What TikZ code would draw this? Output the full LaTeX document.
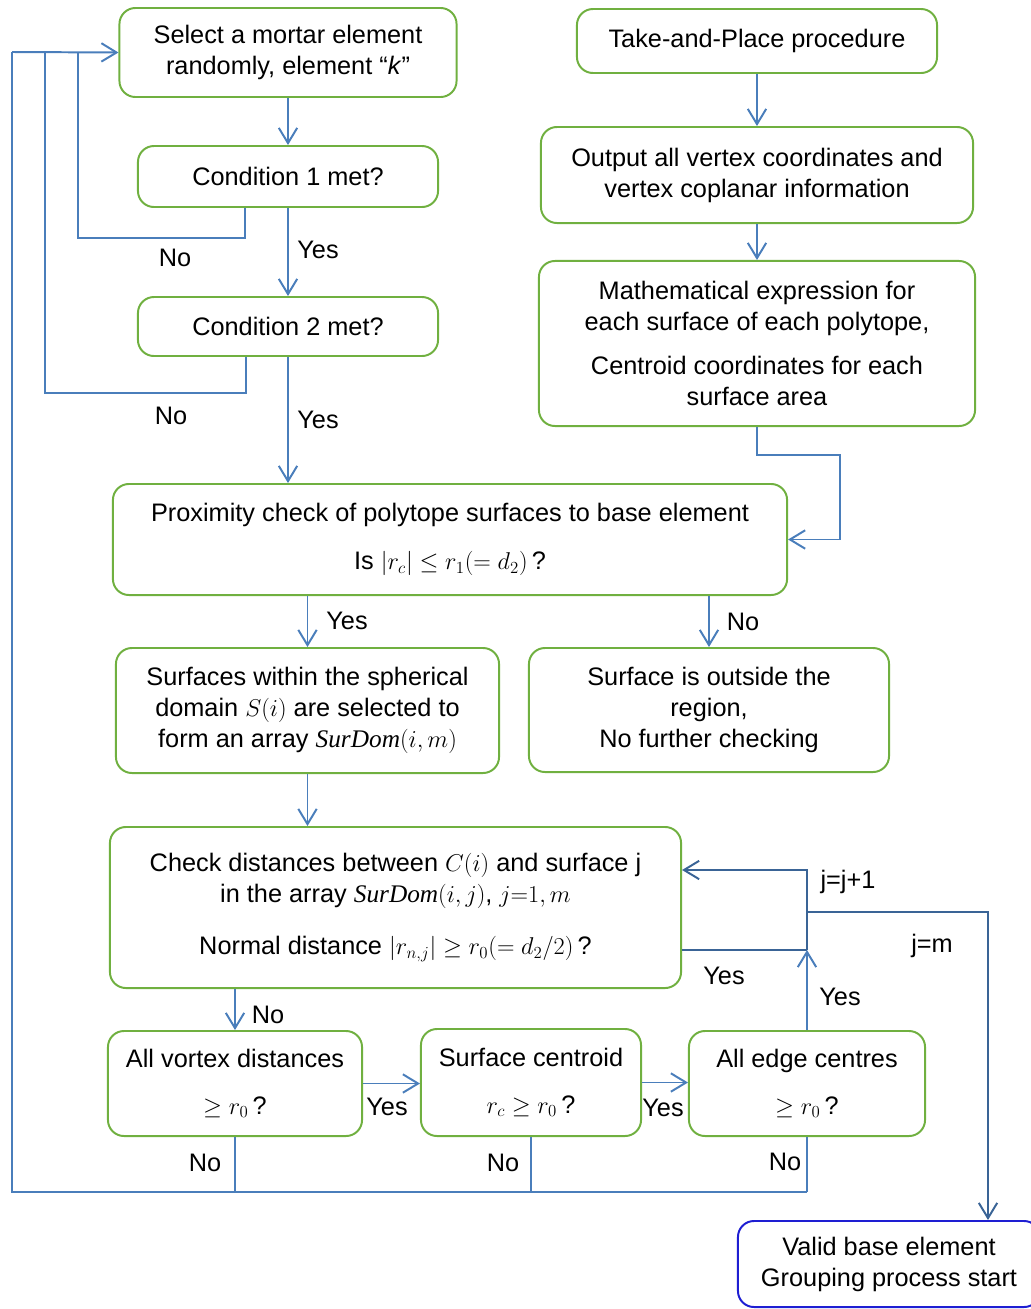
\documentclass[tikz,border=0pt]{standalone}
\usepackage{fontspec}
\setmainfont{Liberation Sans}
\newfontfamily\timesvar{Liberation Serif}
\newcommand{\tvar}[1]{{\timesvar\itshape #1}}
\usepackage{tikz}
\usetikzlibrary{arrows.meta, calc}

\definecolor{boxgreen}{RGB}{112,176,64}
\definecolor{flowblue}{RGB}{74,126,187}
\definecolor{loopblue}{RGB}{58,100,150}
\definecolor{validblue}{RGB}{30,30,210}

\tikzset{
	procbox/.style={draw=boxgreen, line width=1.4pt, rounded corners=0.4cm, align=center,
		font=\fontsize{18}{22}\selectfont, inner sep=0pt},
	flow/.style={draw=flowblue, line width=1.4pt},
	flowarrow/.style={flow, -{Straight Barb[length=0.38cm,width=0.46cm]}},
	lbl/.style={font=\fontsize{18}{22}\selectfont, inner sep=0pt}
}

\begin{document}
\begin{tikzpicture}[x=0.025cm, y=-0.025cm]
			
			\useasboundingbox (0,0) rectangle (1031,1309);
			
			% left column
			\node[procbox, minimum width=8.425cm, minimum height=2.225cm] (select) at (288,52.5)
			{Select a mortar element\\randomly, element “\textit{k}”};
			\node[procbox, minimum width=7.5cm, minimum height=1.525cm] (cond1) at (288,176.5) {Condition 1 met?};
			\node[procbox, minimum width=7.5cm, minimum height=1.475cm] (cond2) at (288,326.5) {Condition 2 met?};
			
			% right column
			\node[procbox, minimum width=9cm, minimum height=1.6cm] (take) at (757,41) {Take-and-Place procedure};
			\node[procbox, minimum width=10.8cm, minimum height=2.4cm] (output) at (757,175)
			{Output all vertex coordinates and\\vertex coplanar information};
			\node[procbox, minimum width=10.9cm, minimum height=4.125cm] (math) at (757,343.5)
			{Mathematical expression for\\each surface of each polytope,\\[9pt]Centroid coordinates for each\\surface area};
			
			% proximity check
			\node[procbox, minimum width=16.85cm, minimum height=2.775cm] (prox) at (450,539.5)
			{Proximity check of polytope surfaces to base element\\[12pt]Is $|r_c|\le r_1(=d_2)$\,?};
			\node[procbox, minimum width=9.575cm, minimum height=3.125cm] (surf) at (307.5,710.5)
			{Surfaces within the spherical\\domain $S(i)$ are selected to\\form an array \tvar{SurDom}$(i,m)$};
			\node[procbox, minimum width=9cm, minimum height=3.1cm] (outside) at (709,710)
			{Surface is outside the\\region,\\No further checking};
			
			% distance checks
			\node[procbox, minimum width=14.275cm, minimum height=4.025cm] (check) at (395.5,907.5)
			{Check distances between $C(i)$ and surface j\\in the array \tvar{SurDom}$(i,j)$, $j{=}1,m$\\[15pt]Normal distance $\left|r_{n,j}\right|\ge r_0(=d_2/2)$\,?};
			\node[procbox, minimum width=6.35cm, minimum height=2.625cm] (vortex) at (235,1083.5)
			{All vortex distances\\[11pt]$\ge r_0$\,?};
			\node[procbox, minimum width=5.5cm, minimum height=2.675cm] (centroid) at (531,1082.5)
			{Surface centroid\\[11pt]$r_c\ge r_0$\,?};
			\node[procbox, minimum width=5.9cm, minimum height=2.625cm] (edge) at (807,1083.5)
			{All edge centres\\[11pt]$\ge r_0$\,?};
			\node[procbox, draw=validblue, minimum width=7.55cm, minimum height=2.15cm] (valid) at (889,1264)
			{Valid base element\\Grouping process start};
			
			% junctions
			\coordinate (backA) at (78,52);
			\coordinate (backB) at (45,52);
			\coordinate (backC) at (12,52);
			\coordinate (lowL) at (12,1192);
			\coordinate (sideR) at (840,455);
			\coordinate (loopTop) at (807,870);
			\coordinate (loopM) at (807,912);
			\coordinate (loopJ) at (807,950);
			\coordinate (exitR) at (988,912);
			
			% main flow
			\draw[flowarrow] (select.south) -- (cond1.north);
			\draw[flowarrow] (cond1.south) -- (cond2.north);
			\draw[flowarrow] (cond2.south) -- (cond2.south |- prox.north);
			\draw[flowarrow] (take) -- (output);
			\draw[flowarrow] (output) -- (math);
			\draw[flowarrow] (math.south) |- (sideR) |- (prox.east);
			\draw[flowarrow] (surf.north |- prox.south) -- (surf.north);
			\draw[flowarrow] (outside.north |- prox.south) -- (outside.north);
			\draw[flowarrow] (surf.south) -- (surf.south |- check.north);
			\draw[flowarrow] (vortex.north |- check.south) -- (vortex.north);
			\draw[flowarrow] (vortex.east) -- (vortex.east -| centroid.west);
			\draw[flowarrow] (centroid.east) -- (centroid.east -| edge.west);
			
			% back to the start
			\draw[flow] ($(cond1.south)+(-43,0)$) -- ++(0,30) -| (backA);
			\draw[flow] ($(cond2.south)+(-42,0)$) -- ++(0,36) -| (backB);
			\foreach \b in {vortex,centroid,edge}
			{
				\draw[flow] (\b.south) -- (\b.south |- lowL);
			}
			\draw[flow] (edge.south |- lowL) -- (lowL) -- (backC);
			\draw[flowarrow] (backC) -- (select.west);
			
			% surface loop
			\draw[flow, draw=loopblue] (check.east |- loopJ) -- (loopJ);
			\draw[flowarrow] (edge.north) -- (loopJ);
			\draw[flowarrow, draw=loopblue] (loopJ) -- (loopTop) -- (check.east |- loopTop);
			\draw[flowarrow, draw=loopblue] (loopM) -- (exitR) -- (exitR |- valid.north);
			
			% labels
			\node[lbl] (yes1) at (318,250) {Yes};
			\node[lbl] (no1) at (175,258) {No};
			\node[lbl] (yes2) at (318,420) {Yes};
			\node[lbl] (no2) at (171,416) {No};
			\node[lbl] (yes3) at (347,621) {Yes};
			\node[lbl] (no3) at (743,622) {No};
			\node[lbl] (no4) at (268,1015) {No};
			\node[lbl] (yes4) at (387,1107) {Yes};
			\node[lbl] (yes5) at (663,1108) {Yes};
			\node[lbl] (yes6) at (840,997) {Yes};
			\node[lbl] (yes7) at (724,976) {Yes};
			\node[lbl] (jnext) at (848,882) {j=j+1};
			\node[lbl] (jend) at (932,946) {j=m};
			\node[lbl] (no5) at (205,1163) {No};
			\node[lbl] (no6) at (503,1163) {No};
			\node[lbl] (no7) at (785,1162) {No};
			
\end{tikzpicture}
\end{document}
